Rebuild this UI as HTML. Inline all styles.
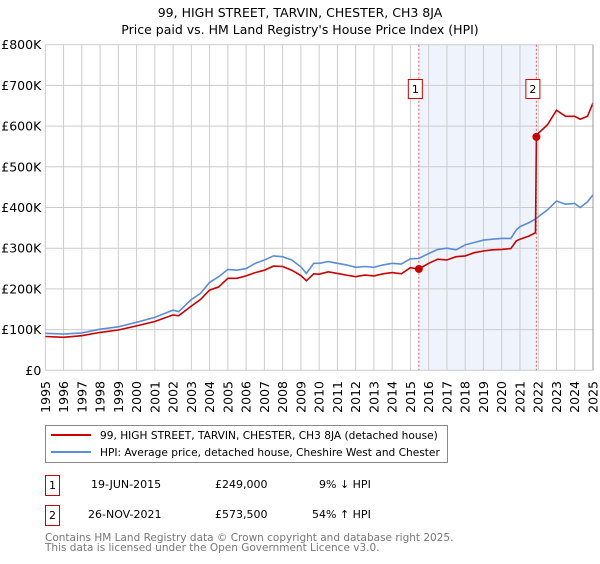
<!DOCTYPE html>
<html><head><meta charset="utf-8"><style>
body{margin:0;background:#fff;font-family:"DejaVu Sans","Liberation Sans",sans-serif;}
svg text{font-family:"DejaVu Sans","Liberation Sans",sans-serif;}
</style></head><body>
<svg id="c" width="600" height="560" xmlns="http://www.w3.org/2000/svg">
<text x="300" y="17" text-anchor="middle" font-size="12.5">99, HIGH STREET, TARVIN, CHESTER, CH3 8JA</text>
<text x="300" y="34" text-anchor="middle" font-size="12.5">Price paid vs. HM Land Registry's House Price Index (HPI)</text>
<g id="grid"></g><g id="marks"></g><g id="axes"></g>
<g>
<rect x="45.5" y="425.5" width="402" height="37" fill="#fff" stroke="#888"/>
<line x1="51" y1="435" x2="91" y2="435" stroke="#cc0000" stroke-width="2"/>
<text x="100" y="439" font-size="10.6">99, HIGH STREET, TARVIN, CHESTER, CH3 8JA (detached house)</text>
<line x1="51" y1="452" x2="91" y2="452" stroke="#5b8dd6" stroke-width="2"/>
<text x="100" y="456" font-size="10.6">HPI: Average price, detached house, Cheshire West and Chester</text>
</g>
<g font-size="11">
<rect x="45.5" y="475.5" width="14" height="20" fill="#fff" stroke="#cc0000"/><text x="52.5" y="489" text-anchor="middle">1</text>
<text x="91" y="488">19-JUN-2015</text><text x="215" y="488">£249,000</text><text x="319" y="488">9% ↓ HPI</text>
<rect x="45.5" y="505.5" width="14" height="20" fill="#fff" stroke="#cc0000"/><text x="52.5" y="519" text-anchor="middle">2</text>
<text x="88" y="518">26-NOV-2021</text><text x="215" y="518">£573,500</text><text x="312" y="518">54% ↑ HPI</text>
</g>
<text x="45" y="541" font-size="10.5" fill="#777">Contains HM Land Registry data © Crown copyright and database right 2025.</text>
<text x="45" y="551" font-size="10.5" fill="#777">This data is licensed under the Open Government Licence v3.0.</text>
</svg>
<script>
const hpiYears=[1995,1996,1997,1998,1999,2000,2001,2002,2002.3,2003,2003.5,2004,2004.5,2005,2005.5,2006,2006.5,2007,2007.5,2008,2008.5,2009,2009.3,2009.7,2010,2010.5,2011,2011.5,2012,2012.5,2013,2013.5,2014,2014.5,2015,2015.46,2016,2016.5,2017,2017.5,2018,2018.5,2019,2019.5,2020,2020.5,2020.8,2021,2021.5,2021.9,2022,2022.5,2023,2023.5,2024,2024.3,2024.7,2025];
const hpiValues=[91,89,92,101,107,118,130,148,144,174,189,216,230,248,246,250,263,271,281,279,271,254,238,263,263,267,263,259,253,255,253,259,263,261,274,275,287,297,300,296,308,314,320,322,324,324,345,353,363,373,377,394,416,408,410,400,414,431];
const priceYears=[1995,1996,1997,1998,1999,2000,2001,2002,2002.3,2003,2003.5,2004,2004.5,2005,2005.5,2006,2006.5,2007,2007.5,2008,2008.5,2009,2009.3,2009.7,2010,2010.5,2011,2011.5,2012,2012.5,2013,2013.5,2014,2014.5,2015,2015.46,2016,2016.5,2017,2017.5,2018,2018.5,2019,2019.5,2020,2020.5,2020.8,2021,2021.5,2021.85,2021.9,2022,2022.5,2023,2023.5,2024,2024.3,2024.7,2025];
const priceValues=[83,81,85,93,99,109,120,136,134,158,174,197,205,226,226,232,240,246,256,255,246,233,220,237,236,242,238,234,230,234,232,237,240,237,252,249,263,273,271,279,281,289,293,296,297,299,318,322,330,338,573.5,582,603,639,624,624,617,624,657];
const saleYears=[2015.46,2021.9];
const saleValues=[249,573.5];
const saleLabels=["1","2"];
const yTicks=[0,100,200,300,400,500,600,700,800];
const yTickLabels=["£0","£100K","£200K","£300K","£400K","£500K","£600K","£700K","£800K"];
const xTicks=[1995,1996,1997,1998,1999,2000,2001,2002,2003,2004,2005,2006,2007,2008,2009,2010,2011,2012,2013,2014,2015,2016,2017,2018,2019,2020,2021,2022,2023,2024,2025];

const X0=45.3,X1=593,Y0=370.3,Y1=44.7;
const sx=v=>X0+(v-1995)/30*(X1-X0);
const sy=v=>Y0-v/800*(Y0-Y1);
const NS="http://www.w3.org/2000/svg";
function mk(tag,attrs,parent){const e=document.createElementNS(NS,tag);for(const k in attrs)e.setAttribute(k,attrs[k]);parent.appendChild(e);return e;}
const grid=document.getElementById('grid'),marks=document.getElementById('marks'),axes=document.getElementById('axes');
let band=mk('rect',{x:sx(saleYears[0]),y:Y1,width:sx(saleYears[1])-sx(saleYears[0]),height:Y0-Y1,fill:'#eef3fc'},grid);


yTicks.forEach((t,i)=>{
  let l=mk('line',{x1:X0,x2:X1,y1:sy(t),y2:sy(t),stroke:'#cccccc'},grid);
  
  
  let tx=mk('text',{x:X0-4,y:sy(t)+4.5,'text-anchor':'end','font-size':'12.5'},axes);
  tx.textContent=yTickLabels[i];
  
  
});
xTicks.forEach(t=>{
  let l=mk('line',{x1:sx(t),x2:sx(t),y1:Y1,y2:Y0,stroke:'#cccccc'},grid);
  
  
  let tx=mk('text',{x:0,y:0,'text-anchor':'end','font-size':'12.5',transform:`translate(${sx(t)+4.5},381) rotate(-90)`},axes);
  tx.textContent=t;
  
  
});
let ra=mk('line',{x1:X1,x2:X1,y1:Y1,y2:Y0,stroke:'#999'},axes);


saleYears.forEach((y,i)=>{
  let l=mk('line',{x1:sx(y),x2:sx(y),y1:Y1,y2:Y0,stroke:'#e06060','stroke-dasharray':'2,2'},marks);
  
  
});
function path(xs,vs,col,name){
  let d=xs.map((x,i)=>(i?'L':'M')+sx(x).toFixed(1)+','+sy(vs[i]).toFixed(1)).join('');
  let p=mk('path',{d:d,fill:'none',stroke:col,'stroke-width':'1.6'},marks);
  
  
}
path(hpiYears,hpiValues,'#5b8dd6','hpi-line');
path(priceYears,priceValues,'#cc0000','price-line');
saleYears.forEach((y,i)=>{
  let c=mk('circle',{cx:sx(y),cy:sy(saleValues[i]),r:4,fill:'#cc0000'},marks);
  
  
  let bc=sx(y)-3.5;
  let r=mk('rect',{x:bc-7,y:79.5,width:14,height:19,fill:'#fff',stroke:'#cc0000'},marks);
  
  
  let t=mk('text',{x:bc,y:93,'text-anchor':'middle','font-size':'11'},marks);
  t.textContent=saleLabels[i];
  
  
});
</script>
</body></html>
